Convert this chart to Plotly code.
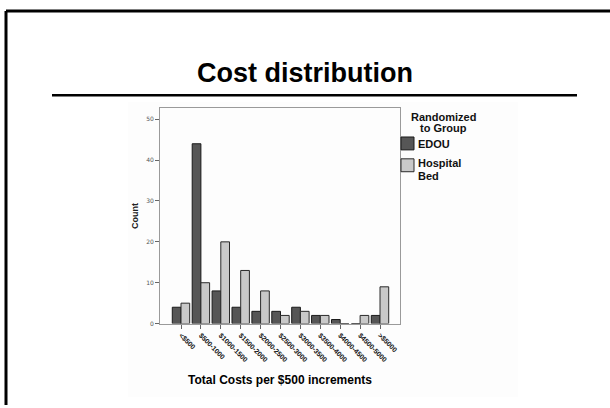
import plotly.graph_objects as go

# Cost bins and patient counts per randomized group
categories = ["<$500", "$500-1000", "$1000-1500", "$1500-2000", "$2000-2500",
              "$2500-3000", "$3000-3500", "$3500-4000", "$4000-4500",
              "$4500-5000", ">$5000"]
edou_counts = [4, 44, 8, 4, 3, 3, 4, 2, 1, 0, 2]
hospital_counts = [5, 10, 20, 13, 8, 2, 3, 2, 0, 2, 9]
y_ticks = [0, 10, 20, 30, 40, 50]

W, H = 610, 408
DARK = "#565656"
LIGHT = "#c9c9c9"


def px(x):
    return x / W


def py(y):
    return 1 - y / H


fig = go.Figure()
fig.add_trace(go.Bar(x=categories, y=edou_counts, name="EDOU",
                     marker=dict(color=DARK, line=dict(color="#1a1a1a", width=1))))
fig.add_trace(go.Bar(x=categories, y=hospital_counts, name="Hospital Bed",
                     marker=dict(color=LIGHT, line=dict(color="#2a2a2a", width=1))))

shapes = [
    # faint chart backdrop
    dict(type="rect", xref="paper", yref="paper", x0=px(128), x1=px(518),
         y0=py(400), y1=py(103), fillcolor="#fdfdfd", line=dict(width=0), layer="below"),
    # slide frame (left and top edges)
    dict(type="line", xref="paper", yref="paper", x0=px(6), x1=px(6), y0=py(11), y1=0,
         line=dict(color="black", width=3)),
    dict(type="line", xref="paper", yref="paper", x0=px(6), x1=1, y0=py(11), y1=py(11),
         line=dict(color="black", width=3)),
    # rule under the slide title
    dict(type="line", xref="paper", yref="paper", x0=px(52), x1=px(577), y0=py(96), y1=py(96),
         line=dict(color="black", width=2.5)),
    # legend swatches
    dict(type="rect", xref="paper", yref="paper", x0=px(401), x1=px(414),
         y0=py(151), y1=py(138), fillcolor=DARK, line=dict(color="#1a1a1a", width=1)),
    dict(type="rect", xref="paper", yref="paper", x0=px(401), x1=px(414),
         y0=py(173), y1=py(160), fillcolor=LIGHT, line=dict(color="#2a2a2a", width=1)),
]

bold = "Liberation Sans"


def label(text, x, y, anchor="left", size=11):
    return dict(text=f"<b>{text}</b>", x=px(x), y=py(y), xref="paper", yref="paper",
                showarrow=False, xanchor=anchor, yanchor="middle",
                font=dict(family=bold, size=size, color="#111"))


annotations = [
    dict(text="<b>Cost distribution</b>", x=px(305), y=py(74), xref="paper", yref="paper",
         showarrow=False, xanchor="center", yanchor="middle",
         font=dict(family=bold, size=27, color="black")),
    label("Randomized", 443, 118, "center"),
    label("to Group", 443, 128.5, "center"),
    label("EDOU", 416, 145),
    label("Hospital", 416, 164),
    label("Bed", 416, 177.5),
]

fig.update_layout(
    width=W, height=H,
    margin=dict(l=0, r=0, t=0, b=0),
    paper_bgcolor="white", plot_bgcolor="white",
    barmode="group", bargap=0.125, bargroupgap=0,
    showlegend=False,
    shapes=shapes, annotations=annotations,
    xaxis=dict(
        domain=[px(160), px(400)], range=[-1.055, 11.005],
        type="category", tickangle=45,
        tickvals=categories, ticktext=[f"<b>{c}</b>" for c in categories],
        ticks="outside", ticklen=4, tickcolor="#666",
        showline=True, mirror=True, linecolor="#9a9a9a", linewidth=1,
        showgrid=False, zeroline=False,
        tickfont=dict(family=bold, size=7, color="#111"),
        title=dict(text="<b>Total Costs per $500 increments</b>", standoff=12,
                   font=dict(family=bold, size=12, color="black")),
    ),
    yaxis=dict(
        domain=[py(326), py(109)], range=[0, 52.7],
        tickvals=y_ticks,
        ticks="outside", ticklen=4, tickcolor="#666",
        showline=True, mirror=True, linecolor="#9a9a9a", linewidth=1,
        showgrid=False, zeroline=False,
        tickfont=dict(family="DejaVu Sans", size=6, color="#555"),
        title=dict(text="<b>Count</b>", standoff=5,
                   font=dict(family=bold, size=9, color="#222")),
    ),
)

fig.write_html("out.html")
